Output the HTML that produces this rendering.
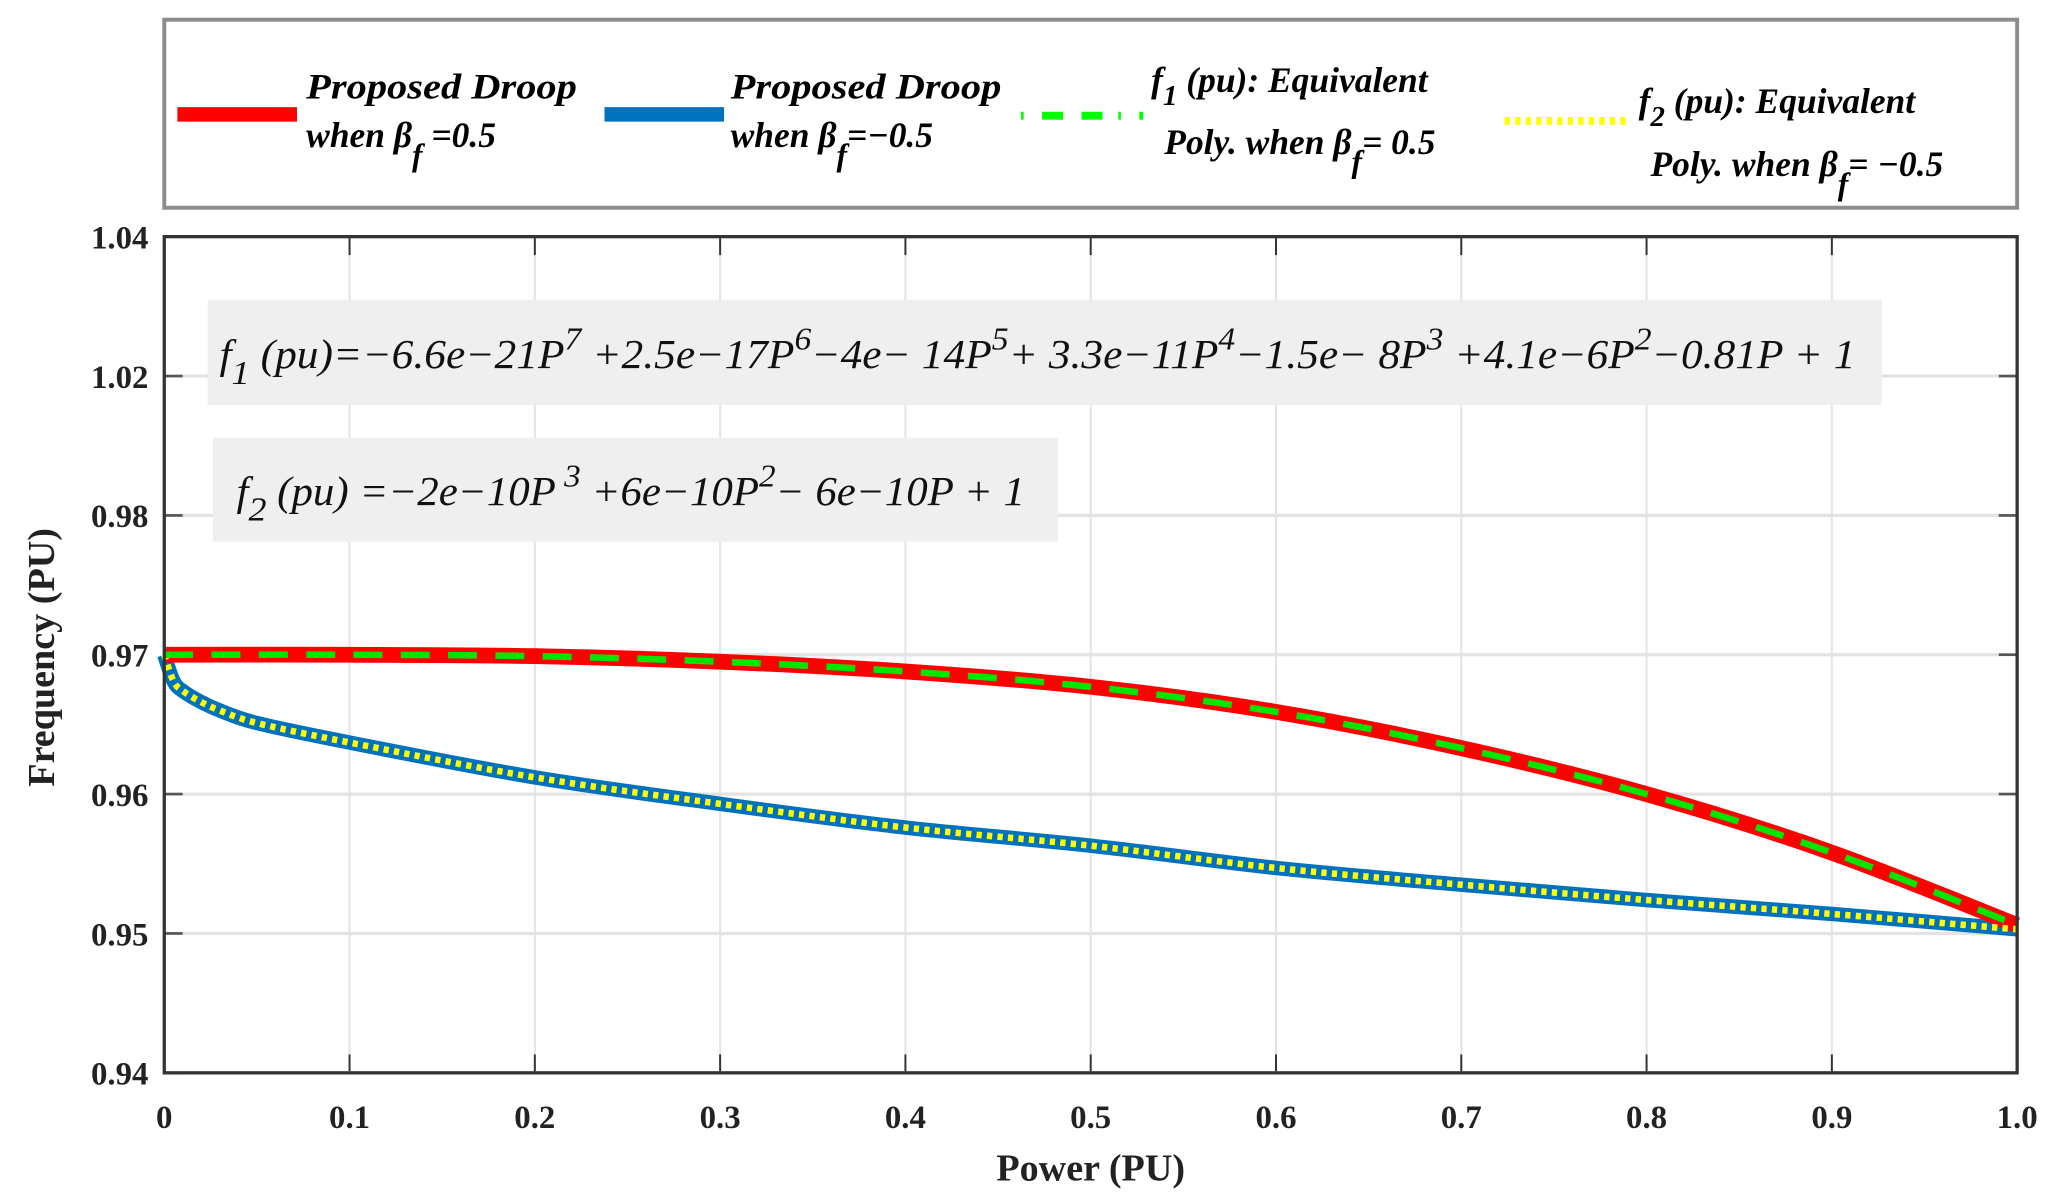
<!DOCTYPE html>
<html><head><meta charset="utf-8"><style>
html,body{margin:0;padding:0;background:#fff;}
svg{display:block;}
text{font-family:"Liberation Serif",serif;}
</style></head><body>
<svg id="chart" width="2050" height="1203" viewBox="0 0 1560 915" preserveAspectRatio="none" xmlns="http://www.w3.org/2000/svg">
<g>
<rect x="125" y="15" width="1410" height="143" fill="#fff" stroke="#8c8c8c" stroke-width="3"/>
<line x1="135" y1="87" x2="226" y2="87" stroke="#ff0000" stroke-width="11"/>
<text font-size="27" font-style="italic" font-weight="bold"><tspan x="233" y="75" textLength="206" lengthAdjust="spacingAndGlyphs">Proposed Droop</tspan><tspan x="233" y="112">when β</tspan><tspan dy="14" font-size="24">f</tspan><tspan dy="-14"> =0.5</tspan></text>
<line x1="460" y1="87" x2="551" y2="87" stroke="#0072bd" stroke-width="11"/>
<text font-size="27" font-style="italic" font-weight="bold"><tspan x="556" y="75" textLength="206" lengthAdjust="spacingAndGlyphs">Proposed Droop</tspan><tspan x="556" y="112">when β</tspan><tspan dy="14" font-size="24">f</tspan><tspan dy="-14">=−0.5</tspan></text>
<line x1="777" y1="88" x2="870" y2="88" stroke="#00ff00" stroke-width="6" stroke-dasharray="2,14,16,14,16,12"/>
<text font-size="27" font-style="italic" font-weight="bold"><tspan x="876" y="70">f</tspan><tspan dy="10" font-size="22">1</tspan><tspan dy="-10"> (pu): Equivalent</tspan><tspan x="886" y="117">Poly. when β</tspan><tspan dy="14" font-size="24">f</tspan><tspan dy="-14">= 0.5</tspan></text>
<line x1="1145" y1="92" x2="1237" y2="92" stroke="#ffff00" stroke-width="6" stroke-dasharray="4,4"/>
<text font-size="27" font-style="italic" font-weight="bold"><tspan x="1247" y="86">f</tspan><tspan dy="10" font-size="22">2</tspan><tspan dy="-10"> (pu): Equivalent</tspan><tspan x="1256" y="134">Poly. when β</tspan><tspan dy="14" font-size="24">f</tspan><tspan dy="-14">= −0.5</tspan></text>
</g>
<g id="plot"></g>
</svg>
<script>
const xTickValues=[0,0.1,0.2,0.3,0.4,0.5,0.6,0.7,0.8,0.9,1.0];
const xTickLabels=["0","0.1","0.2","0.3","0.4","0.5","0.6","0.7","0.8","0.9","1.0"];
const yTickValues=[0.94,0.95,0.96,0.97,0.98,0.99,1.00];
const yTickLabels=["0.94","0.95","0.96","0.97","0.98","1.02","1.04"];
const redP=[0,0.1,0.2,0.3,0.4,0.5,0.6,0.7,0.8,0.9,1.0];
const redF=[0.9700,0.9700,0.9699,0.9695,0.9688,0.9677,0.9659,0.9633,0.9600,0.9558,0.9506];
const blueP=[0,0.005,0.01,0.02,0.03,0.05,0.1,0.2,0.3,0.4,0.5,0.6,0.7,0.8,0.9,1.0];
const blueF=[0.9700,0.9681,0.9674,0.9666,0.9660,0.9651,0.9637,0.9612,0.9593,0.9576,0.9563,0.9547,0.9535,0.9524,0.9514,0.9503];

const L=125,R=1535,T=180,B=816;
const NS="http://www.w3.org/2000/svg";
function xs(v){return L+(v-0)/(1-0)*(R-L);}
function ys(v){return B-(v-0.94)/(1.00-0.94)*(B-T);}
const g=document.getElementById('plot');
function mk(tag,attrs,parent){const e=document.createElementNS(NS,tag);for(const k in attrs)e.setAttribute(k,attrs[k]);(parent||g).appendChild(e);return e;}

mk('rect',{x:L,y:T,width:R-L,height:B-T,fill:'#fff'});
xTickValues.forEach((v,i)=>{
  const gl=mk('line',{x1:xs(v),y1:T,x2:xs(v),y2:B,stroke:'#e3e3e3','stroke-width':1.5});
  
  
  const t1=mk('line',{x1:xs(v),y1:B,x2:xs(v),y2:B-14,stroke:'#333','stroke-width':1.5});
  
  
  const t2=mk('line',{x1:xs(v),y1:T,x2:xs(v),y2:T+14,stroke:'#333','stroke-width':1.5});
  
  
  const tl=mk('text',{x:xs(v),y:B+42,'text-anchor':'middle','font-size':25,'font-weight':'bold',fill:'#222'});
  tl.textContent=xTickLabels[i];
  
  
});
yTickValues.forEach((v,i)=>{
  const gl=mk('line',{x1:L,y1:ys(v),x2:R,y2:ys(v),stroke:'#e3e3e3','stroke-width':2.5});
  
  
  const t1=mk('line',{x1:L,y1:ys(v),x2:L+14,y2:ys(v),stroke:'#555','stroke-width':2});
  
  
  const t2=mk('line',{x1:R,y1:ys(v),x2:R-14,y2:ys(v),stroke:'#555','stroke-width':2});
  
  
  const tl=mk('text',{x:L-12,y:ys(v)+9,'text-anchor':'end','font-size':25,'font-weight':'bold',fill:'#222'});
  tl.textContent=yTickLabels[i];
  
  
});

// equation boxes
const b1=mk('rect',{x:158,y:228,width:1274,height:80,fill:'#efefef'});


const b2=mk('rect',{x:162,y:333,width:643,height:79,fill:'#efefef'});


const e1=mk('text',{x:167,y:280,'font-size':31,'font-style':'italic',fill:'#111',textLength:1245,lengthAdjust:'spacingAndGlyphs'});
e1.innerHTML='f<tspan dy="12" font-size="26">1</tspan><tspan dy="-12"> (pu)=−6.6e−21P</tspan><tspan dy="-14" font-size="24">7</tspan><tspan dy="14"> +2.5e−17P</tspan><tspan dy="-14" font-size="24">6</tspan><tspan dy="14">−4e− 14P</tspan><tspan dy="-14" font-size="24">5</tspan><tspan dy="14">+ 3.3e−11P</tspan><tspan dy="-14" font-size="24">4</tspan><tspan dy="14">−1.5e− 8P</tspan><tspan dy="-14" font-size="24">3</tspan><tspan dy="14"> +4.1e−6P</tspan><tspan dy="-14" font-size="24">2</tspan><tspan dy="14">−0.81P + 1</tspan>';


const e2=mk('text',{x:180,y:384,'font-size':31,'font-style':'italic',fill:'#111',textLength:600,lengthAdjust:'spacingAndGlyphs'});
e2.innerHTML='f<tspan dy="12" font-size="26">2</tspan><tspan dy="-12"> (pu) =−2e−10P</tspan><tspan dy="-14" font-size="24"> 3</tspan><tspan dy="14"> +6e−10P</tspan><tspan dy="-14" font-size="24">2</tspan><tspan dy="14">− 6e−10P + 1</tspan>';



function smoothPath(P,F){
  const pts=P.map((p,i)=>[xs(p),ys(F[i])]);
  let d='M'+pts[0][0]+','+pts[0][1];
  for(let i=0;i<pts.length-1;i++){
    const p0=pts[Math.max(0,i-1)],p1=pts[i],p2=pts[i+1],p3=pts[Math.min(pts.length-1,i+2)];
    const c1=[p1[0]+(p2[0]-p0[0])/6,p1[1]+(p2[1]-p0[1])/6];
    const c2=[p2[0]-(p3[0]-p1[0])/6,p2[1]-(p3[1]-p1[1])/6];
    d+=' C'+c1[0]+','+c1[1]+' '+c2[0]+','+c2[1]+' '+p2[0]+','+p2[1];
  }
  return d;
}
const blue=mk('path',{d:smoothPath(blueP,blueF),fill:'none',stroke:'#0072bd','stroke-width':11,'stroke-linecap':'butt'});


const red=mk('path',{d:smoothPath(redP,redF),fill:'none',stroke:'#ff0000','stroke-width':12,'stroke-linecap':'butt'});


const yel=mk('path',{d:smoothPath(blueP,blueF),fill:'none',stroke:'#ffff00','stroke-width':5,'stroke-dasharray':'4,4'});


const grn=mk('path',{d:smoothPath(redP,redF),fill:'none',stroke:'#00e600','stroke-width':5,'stroke-dasharray':'22,14'});



const frame=mk('rect',{x:L,y:T,width:R-L,height:B-T,fill:'none',stroke:'#333','stroke-width':2.5});



const xt=mk('text',{x:830,y:898,'text-anchor':'middle','font-size':29,'font-weight':'bold',fill:'#222'});
xt.textContent='Power (PU)';


const yt=mk('text',{x:0,y:0,'text-anchor':'middle','font-size':29,'font-weight':'bold',fill:'#222',transform:'translate(41,500) rotate(-90)'});
yt.textContent='Frequency (PU)';


</script>
</body></html>
